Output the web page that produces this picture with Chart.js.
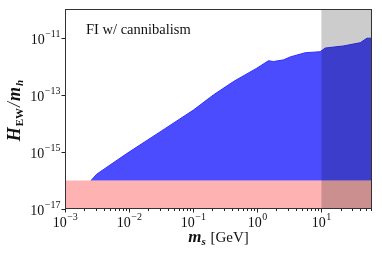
<!DOCTYPE html>
<html>
<head>
<meta charset="utf-8">
<script src="https://cdn.jsdelivr.net/npm/chart.js@4"></script>
<style>
  html, body { margin: 0; padding: 0; background: #fff; }
  canvas { display: block; }
</style>
</head>
<body>
<canvas id="chart" width="382" height="255"></canvas>
<script>
// allowed region boundary (upper edge of blue area)
const massGeV = [0.00255, 0.00313, 0.0092, 0.0305, 0.101, 0.207, 0.427, 0.99, 1.5, 1.8, 2.58, 3.28, 5.62, 9.6, 11.6, 22.3, 40.6, 51.8, 62];
const hRatio = [1e-16, 1.66e-16, 8.7e-16, 5e-15, 2.9e-14, 9.8e-14, 2.9e-13, 8.5e-13, 1.55e-12, 1.45e-12, 1.66e-12, 2.1e-12, 2.95e-12, 3.2e-12, 4.3e-12, 5.1e-12, 6.6e-12, 9.5e-12, 9.5e-12];

const bandLow = 1e-17;
const bandHigh = 1e-16;
const greyFrom = 10;

const xMin = 1e-3, xMax = 62;
const yMin = 1e-17, yMax = 1e-10;
const xTickExps = [-3, -2, -1, 0, 1];
const yTickExps = [-17, -15, -13, -11];
const label = "FI w/ cannibalism";

const serif = '"Liberation Serif", "DejaVu Serif", serif';

function drawPow(ctx, x, y, exp, align) {
  const base = "10";
  const s = exp < 0 ? "\u2212" + Math.abs(exp) : String(exp);
  ctx.font = "14px " + serif;
  const wb = ctx.measureText(base).width;
  ctx.font = "10px " + serif;
  const ws = ctx.measureText(s).width;
  let x0 = align === "right" ? x - wb - ws : x - (wb + ws) / 2;
  ctx.textAlign = "left";
  ctx.textBaseline = "alphabetic";
  ctx.font = "14px " + serif;
  ctx.fillText(base, x0, y);
  ctx.font = "10px " + serif;
  ctx.fillText(s, x0 + wb + 0.5, y - 7);
}

const decor = {
  id: "decor",
  afterDraw(chart) {
    const ctx = chart.ctx;
    const a = chart.chartArea;
    const xs = chart.scales.x, ys = chart.scales.y;
    ctx.save();
    ctx.fillStyle = "#111";
    ctx.strokeStyle = "#333";
    ctx.lineWidth = 1;
    ctx.strokeRect(a.left + 0.5, a.top + 0.5, a.right - a.left - 1, a.bottom - a.top - 1);

    // x ticks
    ctx.strokeStyle = "#222";
    for (let e = -3; e <= 1; e++) {
      for (let m = 1; m <= 9; m++) {
        const v = m * Math.pow(10, e);
        if (v > xMax) continue;
        const px = Math.round(xs.getPixelForValue(v)) + 0.5;
        const len = m === 1 ? 3.5 : 2;
        ctx.beginPath();
        ctx.moveTo(px, a.bottom);
        ctx.lineTo(px, a.bottom + len);
        ctx.stroke();
      }
    }
    xTickExps.forEach(e => {
      const px = xs.getPixelForValue(Math.pow(10, e));
      drawPow(ctx, px, 227, e, "center");
    });
    // y ticks
    yTickExps.forEach(e => {
      const py = Math.round(ys.getPixelForValue(Math.pow(10, e))) + 0.5;
      ctx.beginPath();
      ctx.moveTo(a.left - 3.5, py);
      ctx.lineTo(a.left, py);
      ctx.stroke();
      drawPow(ctx, a.left - 5, py + 5, e, "right");
    });

    // annotation
    ctx.font = "14.5px " + serif;
    ctx.textAlign = "left";
    ctx.fillText(label, 86, 34);

    // x title
    ctx.font = "bold italic 17px " + serif;
    const wm = ctx.measureText("m").width;
    ctx.font = "bold italic 11px " + serif;
    const wsub = ctx.measureText("s").width;
    ctx.font = "15px " + serif;
    const wg = ctx.measureText(" [GeV]").width;
    let x0 = 218 - (wm + wsub + wg) / 2;
    ctx.font = "bold italic 17px " + serif;
    ctx.fillText("m", x0, 242);
    ctx.font = "bold italic 11px " + serif;
    ctx.fillText("s", x0 + wm, 245);
    ctx.font = "15px " + serif;
    ctx.fillText(" [GeV]", x0 + wm + wsub + 1, 242);

    // y title
    ctx.translate(20, 110);
    ctx.rotate(-Math.PI / 2);
    const parts = [
      ["H", "bold italic 18px", 0],
      ["EW", "bold 11px", 3],
      ["/", "italic 18px", 0],
      ["m", "bold italic 18px", 0],
      ["h", "bold italic 11px", 3]
    ];
    let tw = 0;
    parts.forEach(p => { ctx.font = p[1] + " " + serif; tw += ctx.measureText(p[0]).width + 1; });
    let cx = -tw / 2;
    parts.forEach(p => {
      ctx.font = p[1] + " " + serif;
      ctx.fillText(p[0], cx, p[2]);
      cx += ctx.measureText(p[0]).width + 1;
    });
    ctx.restore();
  }
};

const ctx = document.getElementById("chart").getContext("2d");
new Chart(ctx, {
  type: "line",
  data: {
    datasets: [
      {
        label: "excluded",
        data: [{ x: greyFrom, y: yMax }, { x: xMax, y: yMax }],
        borderWidth: 0,
        pointRadius: 0,
        backgroundColor: "rgba(0,0,0,0.2)",
        fill: "start"
      },
      {
        label: "band",
        data: [{ x: xMin, y: bandHigh }, { x: xMax, y: bandHigh }],
        borderWidth: 0,
        pointRadius: 0,
        backgroundColor: "rgba(255,0,0,0.3)",
        fill: { value: bandLow }
      },
      {
        label: "allowed",
        data: massGeV.map((m, i) => ({ x: m, y: hRatio[i] })),
        borderColor: "#3030ff",
        borderWidth: 1,
        pointRadius: 0,
        tension: 0,
        backgroundColor: "rgba(0,0,255,0.7)",
        fill: { value: bandHigh }
      }
    ]
  },
  options: {
    responsive: false,
    animation: false,
    layout: { padding: { left: 0, top: 9, right: 10, bottom: 0 } },
    plugins: { legend: { display: false }, tooltip: { enabled: false } },
    scales: {
      x: {
        type: "logarithmic",
        min: xMin,
        max: xMax,
        grid: { display: false },
        border: { display: false },
        ticks: { display: false },
        afterFit(s) { s.height = 46; }
      },
      y: {
        type: "logarithmic",
        min: yMin,
        max: yMax,
        grid: { display: false },
        border: { display: false },
        ticks: { display: false },
        afterFit(s) { s.width = 65; }
      }
    }
  },
  plugins: [decor]
});
</script>
</body>
</html>
